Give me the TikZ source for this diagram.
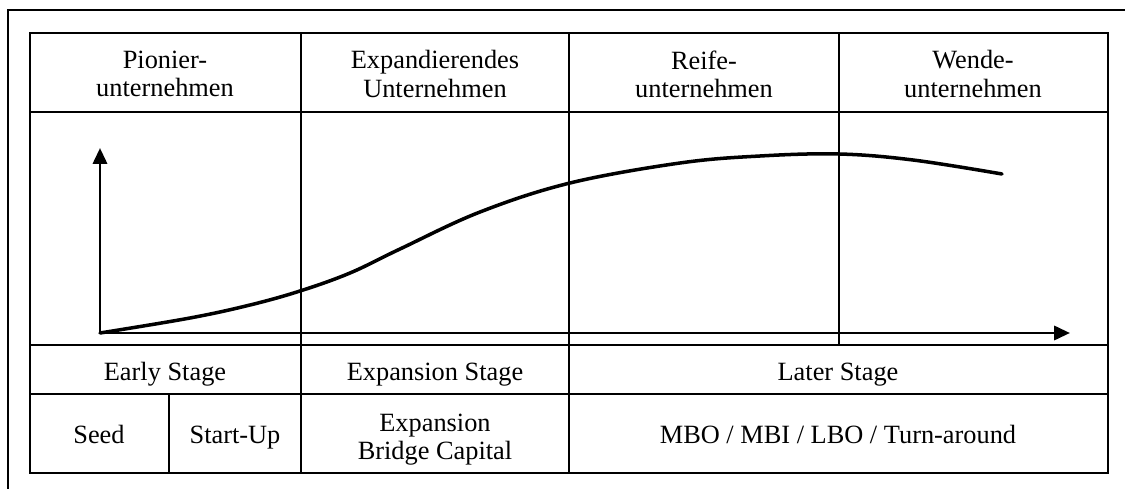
\documentclass[tikz,border=0pt]{standalone}
\usepackage{fontspec}
\setmainfont{Liberation Serif}
\usetikzlibrary{arrows.meta}
\tikzset{
  cell/.style={align=center, font=\fontsize{15}{16}\selectfont, inner sep=0pt},
  oneline/.style={cell, text height=0.7em, text depth=0.22em},
  grid/.style={line width=1.1pt},
  axis/.style={line width=1.7pt, -{Triangle[length=9pt, width=8pt]}},
  growth/.style={line width=2pt, line cap=round}
}

\begin{document}
\begin{tikzpicture}[x=0.02cm, y=-0.02cm]
        \useasboundingbox (0,0) rectangle (1125,489);
        
        % --- Outer frame (top and left only)
        \draw[grid] (7,10) -- (1125,10);
        \draw[grid] (8,10) -- (8,489);
        
        % --- Table grid
        \draw[grid] (30,33) rectangle (1108,473);
        \draw[grid] (30,112) -- (1108,112);
        \draw[grid] (30,345) -- (1108,345);
        \draw[grid] (30,394) -- (1108,394);
        \draw[grid] (301,33) -- (301,473);
        \draw[grid] (569,33) -- (569,473);
        \draw[grid] (839,33) -- (839,345);
        \draw[grid] (169,394) -- (169,473);
        
        % --- Company types
        \node[cell] (pionier) at (165,74) {Pionier-\\unternehmen};
        \node[cell] (expandierend) at (435,74) {Expandierendes\\Unternehmen};
        \node[cell] (reife) at (704,74) {Reife-\\unternehmen};
        \node[cell] (wende) at (973,74) {Wende-\\unternehmen};
        
        % --- Stages
        \node[oneline] (early) at (165,376) {Early Stage};
        \node[oneline] (expstage) at (435,376) {Expansion Stage};
        \node[oneline] (later) at (838,376) {Later Stage};
        
        % --- Financing phases
        \node[oneline] (seed) at (99,439) {Seed};
        \node[oneline] (startup) at (235,439) {Start-Up};
        \node[cell] (bridge) at (435,440) {Expansion\\Bridge Capital};
        \node[oneline] (mbo) at (838,439) {MBO / MBI / LBO / Turn-around};
        
        % --- Axes
        \coordinate (origin) at (100,333);
        \coordinate (ytip) at (100,148);
        \coordinate (xtip) at (1070,333);
        \draw[axis] (origin) -- (ytip);
        \draw[axis] (origin) -- (xtip);
        
        % --- Growth curve
        \draw[growth] plot[smooth, tension=0.6] coordinates {
          (100,333) (190,318) (250,305) (300,291) (350,273) (400,249)
          (480,212) (570,183) (680,163) (760,156) (839,154) (913,160) (1002,174)};
        
        \end{tikzpicture}
\end{document}
